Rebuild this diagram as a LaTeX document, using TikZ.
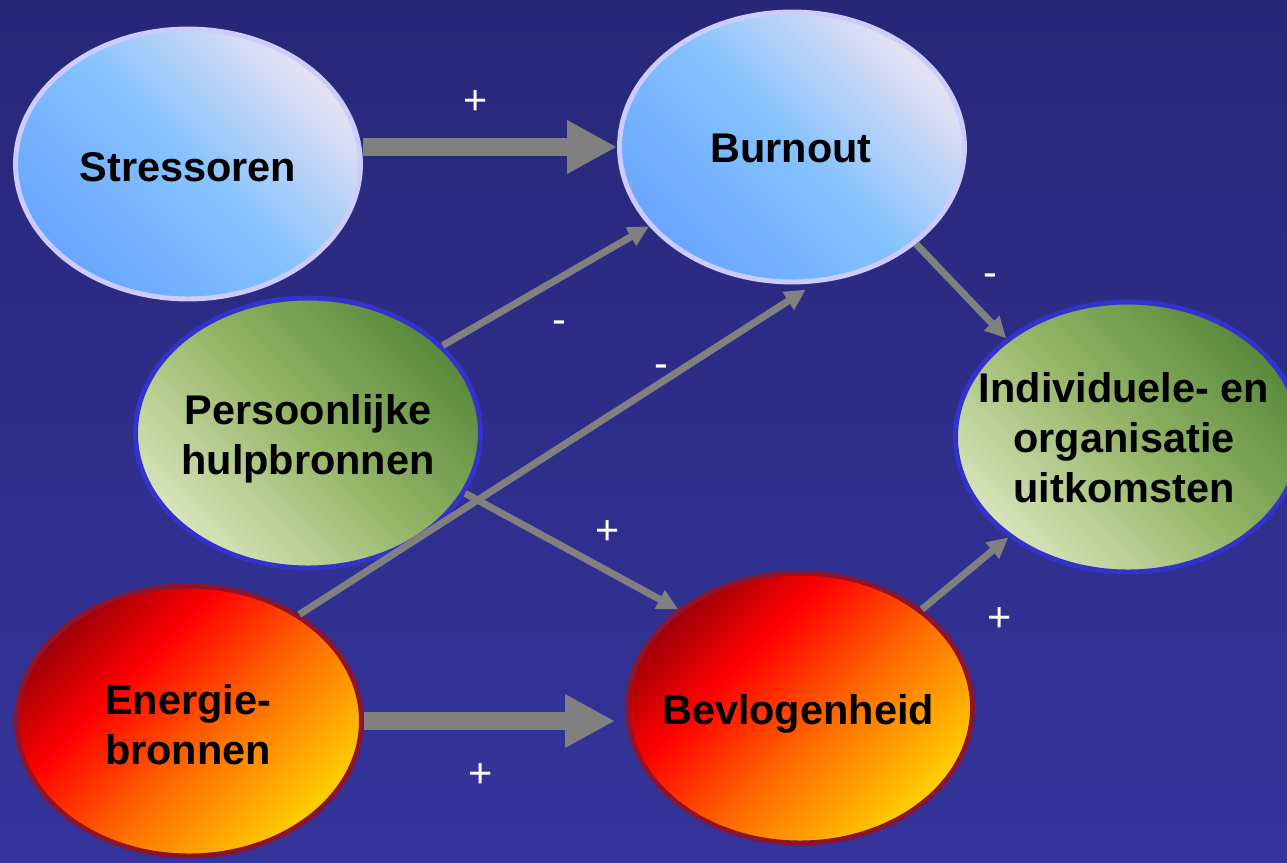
\documentclass[tikz,border=0pt]{standalone}
\usepackage{fontspec}
\setmainfont{Liberation Sans}
\usetikzlibrary{shapes.geometric,arrows.meta}
\definecolor{bgtop}{RGB}{39,39,120}
\definecolor{bgbot}{RGB}{52,52,156}
\definecolor{arrowgray}{RGB}{128,128,128}
\definecolor{skyA}{RGB}{106,166,255}
\definecolor{skyB}{RGB}{132,194,255}
\definecolor{skyC}{RGB}{232,226,242}
\definecolor{skyrim}{RGB}{204,204,255}
\definecolor{leafA}{RGB}{214,228,186}
\definecolor{leafB}{RGB}{150,182,104}
\definecolor{leafC}{RGB}{88,138,60}
\definecolor{leafrim}{RGB}{51,51,204}
\definecolor{fireA}{RGB}{160,0,8}
\definecolor{fireB}{RGB}{255,0,0}
\definecolor{fireC}{RGB}{255,112,0}
\definecolor{fireD}{RGB}{255,208,0}
\definecolor{firerim}{RGB}{140,20,44}
\pgfdeclarehorizontalshading{fireglow}{100bp}{color(0bp)=(fireA); color(25bp)=(fireA); color(38bp)=(fireB); color(56bp)=(fireC); color(75bp)=(fireD); color(100bp)=(fireD)}

\begin{document}
\begin{tikzpicture}[x=0.02cm,y=-0.02cm,
  bubble/.style={ellipse,minimum width=6.9cm,minimum height=5.4cm,line width=2.8pt,inner sep=0pt},
  sky/.style={bubble,draw=skyrim,left color=skyA,right color=skyC,middle color=skyB,shading angle=135},
  leaf/.style={bubble,draw=leafrim,left color=leafA,right color=leafC,middle color=leafB,shading angle=135},
  fire/.style={bubble,draw=firerim,shading=fireglow,shading angle=-45},
  bubbletext/.style={align=center,inner sep=0pt,font=\bfseries\fontsize{23.6}{28.5}\selectfont},
  bigarrow/.style={draw=arrowgray,fill=arrowgray,line width=9.7pt,-{Triangle[length=1cm,width=1cm]}},
  link/.style={draw=arrowgray,fill=arrowgray,line width=4pt,-{Triangle[length=0.42cm,width=0.4cm]}},
  sign/.style={white,inner sep=0pt,anchor=base,font=\fontsize{23.6}{28.5}\selectfont}]
\useasboundingbox (0,0) rectangle (1287,862);
\shade[top color=bgtop,bottom color=bgbot] (0,0) rectangle (1287,862);

\node[sky] (stress) at (188,164) {};
\node[sky] (burn) at (792,147) {};
\node[leaf] (pers) at (308,433) {};
\node[leaf] (uitk) at (1128,437) {};
\node[fire] (ener) at (189,721) {};
\node[fire] (bev) at (800,708) {};

\node[bubbletext] (stress-t) at (188,167) {Stressoren};
\node[bubbletext] (burn-t) at (791,148) {Burnout};
\node[bubbletext] (pers-t) at (308,439) {Persoonlijke\\hulpbronnen};
\node[bubbletext] (uitk-t) at (1124,438) {Individuele- en\\organisatie\\uitkomsten};
\node[bubbletext] (ener-t) at (188,725) {Energie-\\bronnen};
\node[bubbletext] (bev-t) at (798,714) {Bevlogenheid};

\draw[bigarrow] (stress.east |- burn.west) -- (burn.west);
\draw[bigarrow,shorten >=0.2cm] (ener.east) -- (ener.east -| bev.west);
\draw[link] (pers.33) -- (burn.209);
\draw[link,shorten >=0.24cm] (ener.44) -- (burn.280);
\draw[link] (pers.339) -- (bev.141);
\draw[link] (burn.322) -- (uitk.141);
\draw[link] (bev.39) -- (uitk.220);

\node[sign] (plus-a) at (476,114) {+};
\node[sign] (min-a) at (559,333) {-};
\node[sign] (min-b) at (661,377) {-};
\node[sign] (plus-b) at (608,544) {+};
\node[sign] (min-c) at (990,286) {-};
\node[sign] (plus-c) at (1000,631) {+};
\node[sign] (plus-d) at (481,787) {+};
\end{tikzpicture}
\end{document}
